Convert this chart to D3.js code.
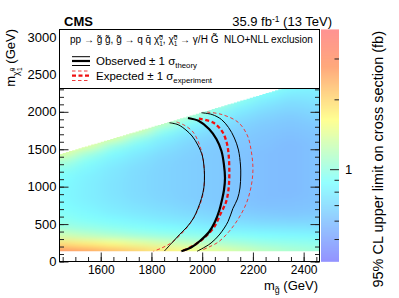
<!DOCTYPE html>
<html>
<head>
<meta charset="utf-8">
<script src="https://cdn.jsdelivr.net/npm/d3@7"></script>
<style>
  body { margin: 0; background: #fff; }
  text { font-family: "Liberation Sans", Arial, Helvetica, sans-serif; fill: #000; }
</style>
</head>
<body>
<script>
// gluino mass bins (centres, GeV) and neutralino mass bins (centres, GeV)
var gluinoMass = [1450, 1550, 1650, 1750, 1850, 1950, 2050, 2150, 2250, 2350, 2450];
var neutralinoMass = [150, 250, 350, 450, 550, 650, 750, 850, 950, 1050, 1150, 1250, 1350,
                      1450, 1550, 1650, 1750, 1850, 1950, 2050, 2150, 2250, 2350, 2450, 2550];

// 95% CL upper limit on cross section (fb), one list per gluino bin, from the lowest neutralino bin up
var limitByGluino = [
  [2.9, 1.9, 1.3, 1.05, 0.95, 0.9, 0.87, 0.85, 0.85, 0.86, 0.88, 0.95, 1.1, 1.4, 1.6],
  [2.6, 1.75, 1.2, 1.0, 0.9, 0.85, 0.82, 0.8, 0.8, 0.8, 0.81, 0.84, 0.9, 1.05, 1.4, 1.6],
  [2.3, 1.6, 1.12, 0.95, 0.86, 0.8, 0.77, 0.75, 0.74, 0.74, 0.75, 0.76, 0.8, 0.86, 1.0, 1.35, 1.55],
  [2.05, 1.45, 1.05, 0.9, 0.82, 0.76, 0.73, 0.71, 0.7, 0.7, 0.7, 0.71, 0.73, 0.77, 0.84, 0.98, 1.3, 1.5],
  [1.8, 1.32, 1.0, 0.87, 0.78, 0.73, 0.7, 0.68, 0.67, 0.67, 0.67, 0.67, 0.68, 0.7, 0.74, 0.8, 0.93, 1.2, 1.4],
  [1.6, 1.22, 0.96, 0.84, 0.75, 0.7, 0.67, 0.65, 0.65, 0.65, 0.65, 0.65, 0.65, 0.66, 0.68, 0.71, 0.77, 0.88, 1.1, 1.3],
  [1.45, 1.13, 0.93, 0.8, 0.72, 0.67, 0.64, 0.63, 0.63, 0.63, 0.63, 0.63, 0.63, 0.63, 0.64, 0.66, 0.7, 0.76, 0.85, 1.0, 1.2],
  [1.3, 1.06, 0.9, 0.78, 0.7, 0.65, 0.62, 0.61, 0.61, 0.61, 0.61, 0.61, 0.61, 0.61, 0.62, 0.63, 0.65, 0.68, 0.73, 0.8, 0.92, 1.05],
  [1.18, 1.0, 0.87, 0.76, 0.68, 0.63, 0.6, 0.59, 0.59, 0.59, 0.59, 0.59, 0.59, 0.59, 0.6, 0.61, 0.62, 0.64, 0.67, 0.72, 0.78, 0.88, 1.0],
  [1.1, 0.97, 0.85, 0.75, 0.67, 0.62, 0.6, 0.59, 0.58, 0.58, 0.58, 0.58, 0.58, 0.58, 0.58, 0.59, 0.6, 0.62, 0.64, 0.68, 0.72, 0.78, 0.86, 0.95],
  [1.05, 0.95, 0.84, 0.74, 0.67, 0.63, 0.61, 0.6, 0.6, 0.6, 0.6, 0.6, 0.6, 0.6, 0.6, 0.61, 0.62, 0.64, 0.67, 0.7, 0.74, 0.78, 0.83, 0.9, 0.97]
];

// exclusion contours, [m_gluino, m_neutralino] in GeV
var observed = [[1944,1917],[1987,1877],[2027,1770],[2056,1637],[2076,1476],[2086,1289],[2090,1116],
  [2086,955],[2078,822],[2068,688],[2050,528],[2027,394],[1991,274],[1956,187],[1918,137]];
var observedMinus = [[1871,1854],[1905,1828],[1936,1757],[1960,1677],[1983,1556],[2001,1409],[2007,1276],
  [2009,1156],[2007,995],[1997,842],[1983,708],[1966,581],[1940,461],[1909,354],[1879,243],[1851,140]];
var observedPlus = [[1997,1988],[2039,1964],[2076,1897],[2104,1790],[2127,1650],[2143,1490],[2151,1289],
  [2152,1156],[2149,982],[2139,835],[2121,708],[2102,534],[2070,367],[2035,247],[1997,167],[1980,137]];
var expected = [[1987,1910],[2043,1857],[2078,1743],[2096,1597],[2104,1436],[2107,1196],[2104,969],
  [2094,795],[2074,648],[2047,461],[2011,327],[1976,234],[1940,167],[1915,137]];
var expectedMinus = [[1899,1864],[1932,1817],[1964,1730],[1985,1597],[1999,1450],[2007,1276],[2009,1116],
  [2005,929],[1991,755],[1972,615],[1948,488],[1916,361],[1877,247],[1840,180],[1808,137]];
var expectedPlus = [[2019,1997],[2078,1964],[2143,1857],[2179,1677],[2194,1463],[2200,1263],[2198,1116],
  [2190,955],[2173,768],[2142,568],[2106,401],[2064,261],[2027,194],[1996,147]];

var xTicks = [1600, 1800, 2000, 2200, 2400];
var yTicks = [0, 500, 1000, 1500, 2000, 2500, 3000];
var zTicks = [1];
var zMinorTicks = [0.5, 0.6, 0.7, 0.8, 0.9, 2, 3];

var width = 399, height = 298;
var plot = {left: 59.5, right: 319.5, top: 29.5, bottom: 261.5};

var x = d3.scaleLinear().domain([1437.5, 2462.5]).range([plot.left, plot.right]);
var y = d3.scaleLinear().domain([0, 3100]).range([plot.bottom, plot.top]);
var z = d3.scaleLog().domain([0.4, 4]).range([0, 1]).clamp(true);
var palette = d3.scaleLinear()
  .domain([0, 0.34, 0.61, 0.84, 1])
  .range(["rgb(128,128,255)", "rgb(128,255,255)", "rgb(255,255,128)", "rgb(255,153,102)", "rgb(255,128,128)"]);
var colour = function(v) { return palette(z(v)); };

var svg = d3.select("body").append("svg")
    .attr("width", width)
    .attr("height", height);
var defs = svg.append("defs");

defs.append("filter").attr("id", "smooth")
    .attr("filterUnits", "userSpaceOnUse")
    .attr("x", 0).attr("y", 0).attr("width", width).attr("height", height)
  .append("feGaussianBlur").attr("stdDeviation", "9 3");

// staircase region of the scanned grid (m_neutralino below m_gluino)
var stair = [[x(1437.5), y(137.5)]];
d3.range(1437.5, 2462.5, 12.5).forEach(function(m) {
  stair.push([x(m), y(m)], [x(m + 12.5), y(m)]);
});
stair.push([x(2462.5), y(137.5)]);
defs.append("clipPath").attr("id", "gridClip")
  .append("polygon").attr("points", stair.map(function(p) { return p.join(","); }).join(" "));
defs.append("clipPath").attr("id", "plotClip")
  .append("rect").attr("x", plot.left).attr("y", plot.top)
  .attr("width", plot.right - plot.left).attr("height", plot.bottom - plot.top);

// heat map
var cells = [];
limitByGluino.forEach(function(col, i) {
  col.forEach(function(v, j) {
    cells.push({mg: gluinoMass[i], mchi: neutralinoMass[j], v: v,
                first: i === 0, last: i === gluinoMass.length - 1, bottom: j === 0, top: j === col.length - 1});
  });
});
svg.append("g").attr("clip-path", "url(#gridClip)")
  .append("g").attr("filter", "url(#smooth)")
  .selectAll("rect").data(cells).enter().append("rect")
    .attr("x", function(d) { return x(d.mg - 50) - (d.first ? 30 : 0) - 0.5; })
    .attr("width", function(d) { return x(d.mg + 50) - x(d.mg - 50) + (d.first ? 30 : 0) + (d.last ? 30 : 0) + 1; })
    .attr("y", function(d) { return y(d.mchi + 50) - (d.top ? 20 : 0) - 0.5; })
    .attr("height", function(d) {
      var bot = d.bottom ? y(0) + 10 : y(d.mchi - 50);
      return bot - y(d.mchi + 50) + (d.top ? 20 : 0) + 1;
    })
    .attr("fill", function(d) { return colour(d.v); });

// contours
var line = d3.line()
  .x(function(d) { return x(d[0]); })
  .y(function(d) { return y(d[1]); })
  .curve(d3.curveCatmullRom.alpha(0.5));
var curves = svg.append("g").attr("clip-path", "url(#plotClip)").attr("fill", "none");
[expectedMinus, expectedPlus].forEach(function(c) {
  curves.append("path").datum(c).attr("d", line)
    .attr("stroke", "#ee3b3b").attr("stroke-width", 1).attr("stroke-dasharray", "3.5,2.5");
});
[observedMinus, observedPlus].forEach(function(c) {
  curves.append("path").datum(c).attr("d", line)
    .attr("stroke", "#000").attr("stroke-width", 1);
});
curves.append("path").datum(expected).attr("d", line)
  .attr("stroke", "#f01010").attr("stroke-width", 2.3).attr("stroke-dasharray", "4,2.5");
curves.append("path").datum(observed).attr("d", line)
  .attr("stroke", "#000").attr("stroke-width", 2.2);

// axes
var noDomain = function(g) { g.select(".domain").remove(); };
var tickStyle = function(g) { g.selectAll(".tick line").attr("stroke", "#222"); };

svg.append("g").attr("transform", "translate(0," + plot.bottom + ")")
  .call(d3.axisBottom(x).tickValues(d3.range(1450, 2451, 50)).tickSize(-4.5).tickFormat(""))
  .call(noDomain).call(tickStyle);
svg.append("g").attr("transform", "translate(0," + plot.bottom + ")")
  .call(d3.axisBottom(x).tickValues(xTicks).tickSize(-9).tickPadding(3.5).tickFormat(d3.format("d")))
  .call(noDomain).call(tickStyle)
  .call(function(g) { g.selectAll("text").attr("font-size", 12).attr("font-family", null); });

[[plot.left, d3.axisLeft], [plot.right, d3.axisRight]].forEach(function(a, k) {
  svg.append("g").attr("transform", "translate(" + a[0] + ",0)")
    .call(a[1](y).tickValues(d3.range(0, 3101, 100)).tickSize(-4.5).tickFormat(""))
    .call(noDomain).call(tickStyle);
  svg.append("g").attr("transform", "translate(" + a[0] + ",0)")
    .call(a[1](y).tickValues(yTicks).tickSize(-9).tickPadding(3).tickFormat(k === 0 ? d3.format("d") : ""))
    .call(noDomain).call(tickStyle)
    .call(function(g) { g.selectAll("text").attr("font-size", 13).attr("font-family", null); });
});

svg.append("rect")
  .attr("x", plot.left).attr("y", plot.top)
  .attr("width", plot.right - plot.left).attr("height", plot.bottom - plot.top)
  .attr("fill", "none").attr("stroke", "#000").attr("stroke-width", 1);

// text with sub/superscripts
function rich(sel, parts, fs) {
  var cur = 0;
  parts.forEach(function(p) {
    var b = p.b || 0;
    sel.append("tspan")
      .attr("dy", b - cur)
      .attr("dx", p.dx || 0)
      .attr("font-size", (p.s || 1) * fs)
      .text(p.t);
    cur = b;
  });
  return sel;
}

// legend
var legend = svg.append("g");
legend.append("rect")
  .attr("x", plot.left).attr("y", plot.top)
  .attr("width", plot.right - plot.left).attr("height", 59)
  .attr("fill", "#fff").attr("stroke", "#000").attr("stroke-width", 1);

rich(legend.append("text").attr("x", 70).attr("y", 43).attr("font-size", 10), [
  {t: "pp \u2192 g\u0303 g\u0303, g\u0303 \u2192 q q\u0304 \u03c7\u0303"},
  {t: "0", s: 0.65, b: -3.5}, {t: "1", s: 0.65, b: 2.5, dx: -3.6},
  {t: ", \u03c7\u0303"},
  {t: "0", s: 0.65, b: -3.5}, {t: "1", s: 0.65, b: 2.5, dx: -3.6},
  {t: " \u2192 \u03b3/H G\u0303\u00a0 NLO+NLL exclusion"}
], 10);

[[56.7, 1], [61, 2.2], [65.5, 1]].forEach(function(l) {
  legend.append("line").attr("x1", 72).attr("x2", 90).attr("y1", l[0]).attr("y2", l[0])
    .attr("stroke", "#000").attr("stroke-width", l[1]);
});
[[71, 1, "#ee3b3b", "3.5,2.5"], [75.7, 2.3, "#f01010", "4,2.5"], [80.5, 1, "#ee3b3b", "3.5,2.5"]].forEach(function(l) {
  legend.append("line").attr("x1", 72).attr("x2", 90).attr("y1", l[0]).attr("y2", l[0])
    .attr("stroke", l[2]).attr("stroke-width", l[1]).attr("stroke-dasharray", l[3]);
});
rich(legend.append("text").attr("x", 96).attr("y", 64.5), [
  {t: "Observed \u00b1 1 \u03c3"}, {t: "theory", s: 0.68, b: 3}
], 11.5);
rich(legend.append("text").attr("x", 96).attr("y", 79.5), [
  {t: "Expected \u00b1 1 \u03c3"}, {t: "experiment", s: 0.68, b: 3}
], 11.5);

// colour bar
var bar = {left: 321, right: 339};
var cb = d3.scaleLog().domain([0.4, 4]).range([plot.bottom, plot.top]);
svg.append("g").selectAll("rect")
  .data(d3.range(plot.top, plot.bottom, 1))
  .enter().append("rect")
    .attr("x", bar.left).attr("width", bar.right - bar.left)
    .attr("y", function(d) { return d; }).attr("height", 1.2)
    .attr("fill", function(d) { return colour(cb.invert(d + 0.5)); });
svg.append("g").attr("transform", "translate(" + bar.right + ",0)")
  .call(d3.axisRight(cb).tickValues(zMinorTicks).tickSize(-4.5).tickFormat(""))
  .call(noDomain).call(tickStyle);
svg.append("g").attr("transform", "translate(" + bar.right + ",0)")
  .call(d3.axisRight(cb).tickValues(zTicks).tickSize(-9).tickPadding(6).tickFormat(d3.format("d")))
  .call(noDomain).call(tickStyle)
  .call(function(g) { g.selectAll("text").attr("font-size", 13).attr("font-family", null); });

// titles
svg.append("text").attr("x", 64).attr("y", 26)
  .attr("font-size", 13).attr("font-weight", "bold").text("CMS");
rich(svg.append("text").attr("x", 332).attr("y", 26).attr("text-anchor", "end"), [
  {t: "35.9 fb"}, {t: "-1", s: 0.65, b: -4.5}, {t: " (13 TeV)"}
], 13);
rich(svg.append("text").attr("x", 318).attr("y", 289.5).attr("text-anchor", "end"), [
  {t: "m"}, {t: "g\u0303", s: 0.68, b: 3.5}, {t: " (GeV)"}
], 13);
rich(svg.append("text").attr("text-anchor", "end")
  .attr("transform", "translate(15,29) rotate(-90)"), [
  {t: "m"}, {t: "\u03c7\u0303", s: 0.68, b: 3.5},
  {t: "0", s: 0.5, b: 0}, {t: "1", s: 0.5, b: 7, dx: -3.3}, {t: " (GeV)"}
], 13);
svg.append("text").attr("text-anchor", "end").attr("font-size", 14.5)
  .attr("transform", "translate(383,31) rotate(-90)")
  .text("95% CL upper limit on cross section (fb)");
</script>
</body>
</html>
